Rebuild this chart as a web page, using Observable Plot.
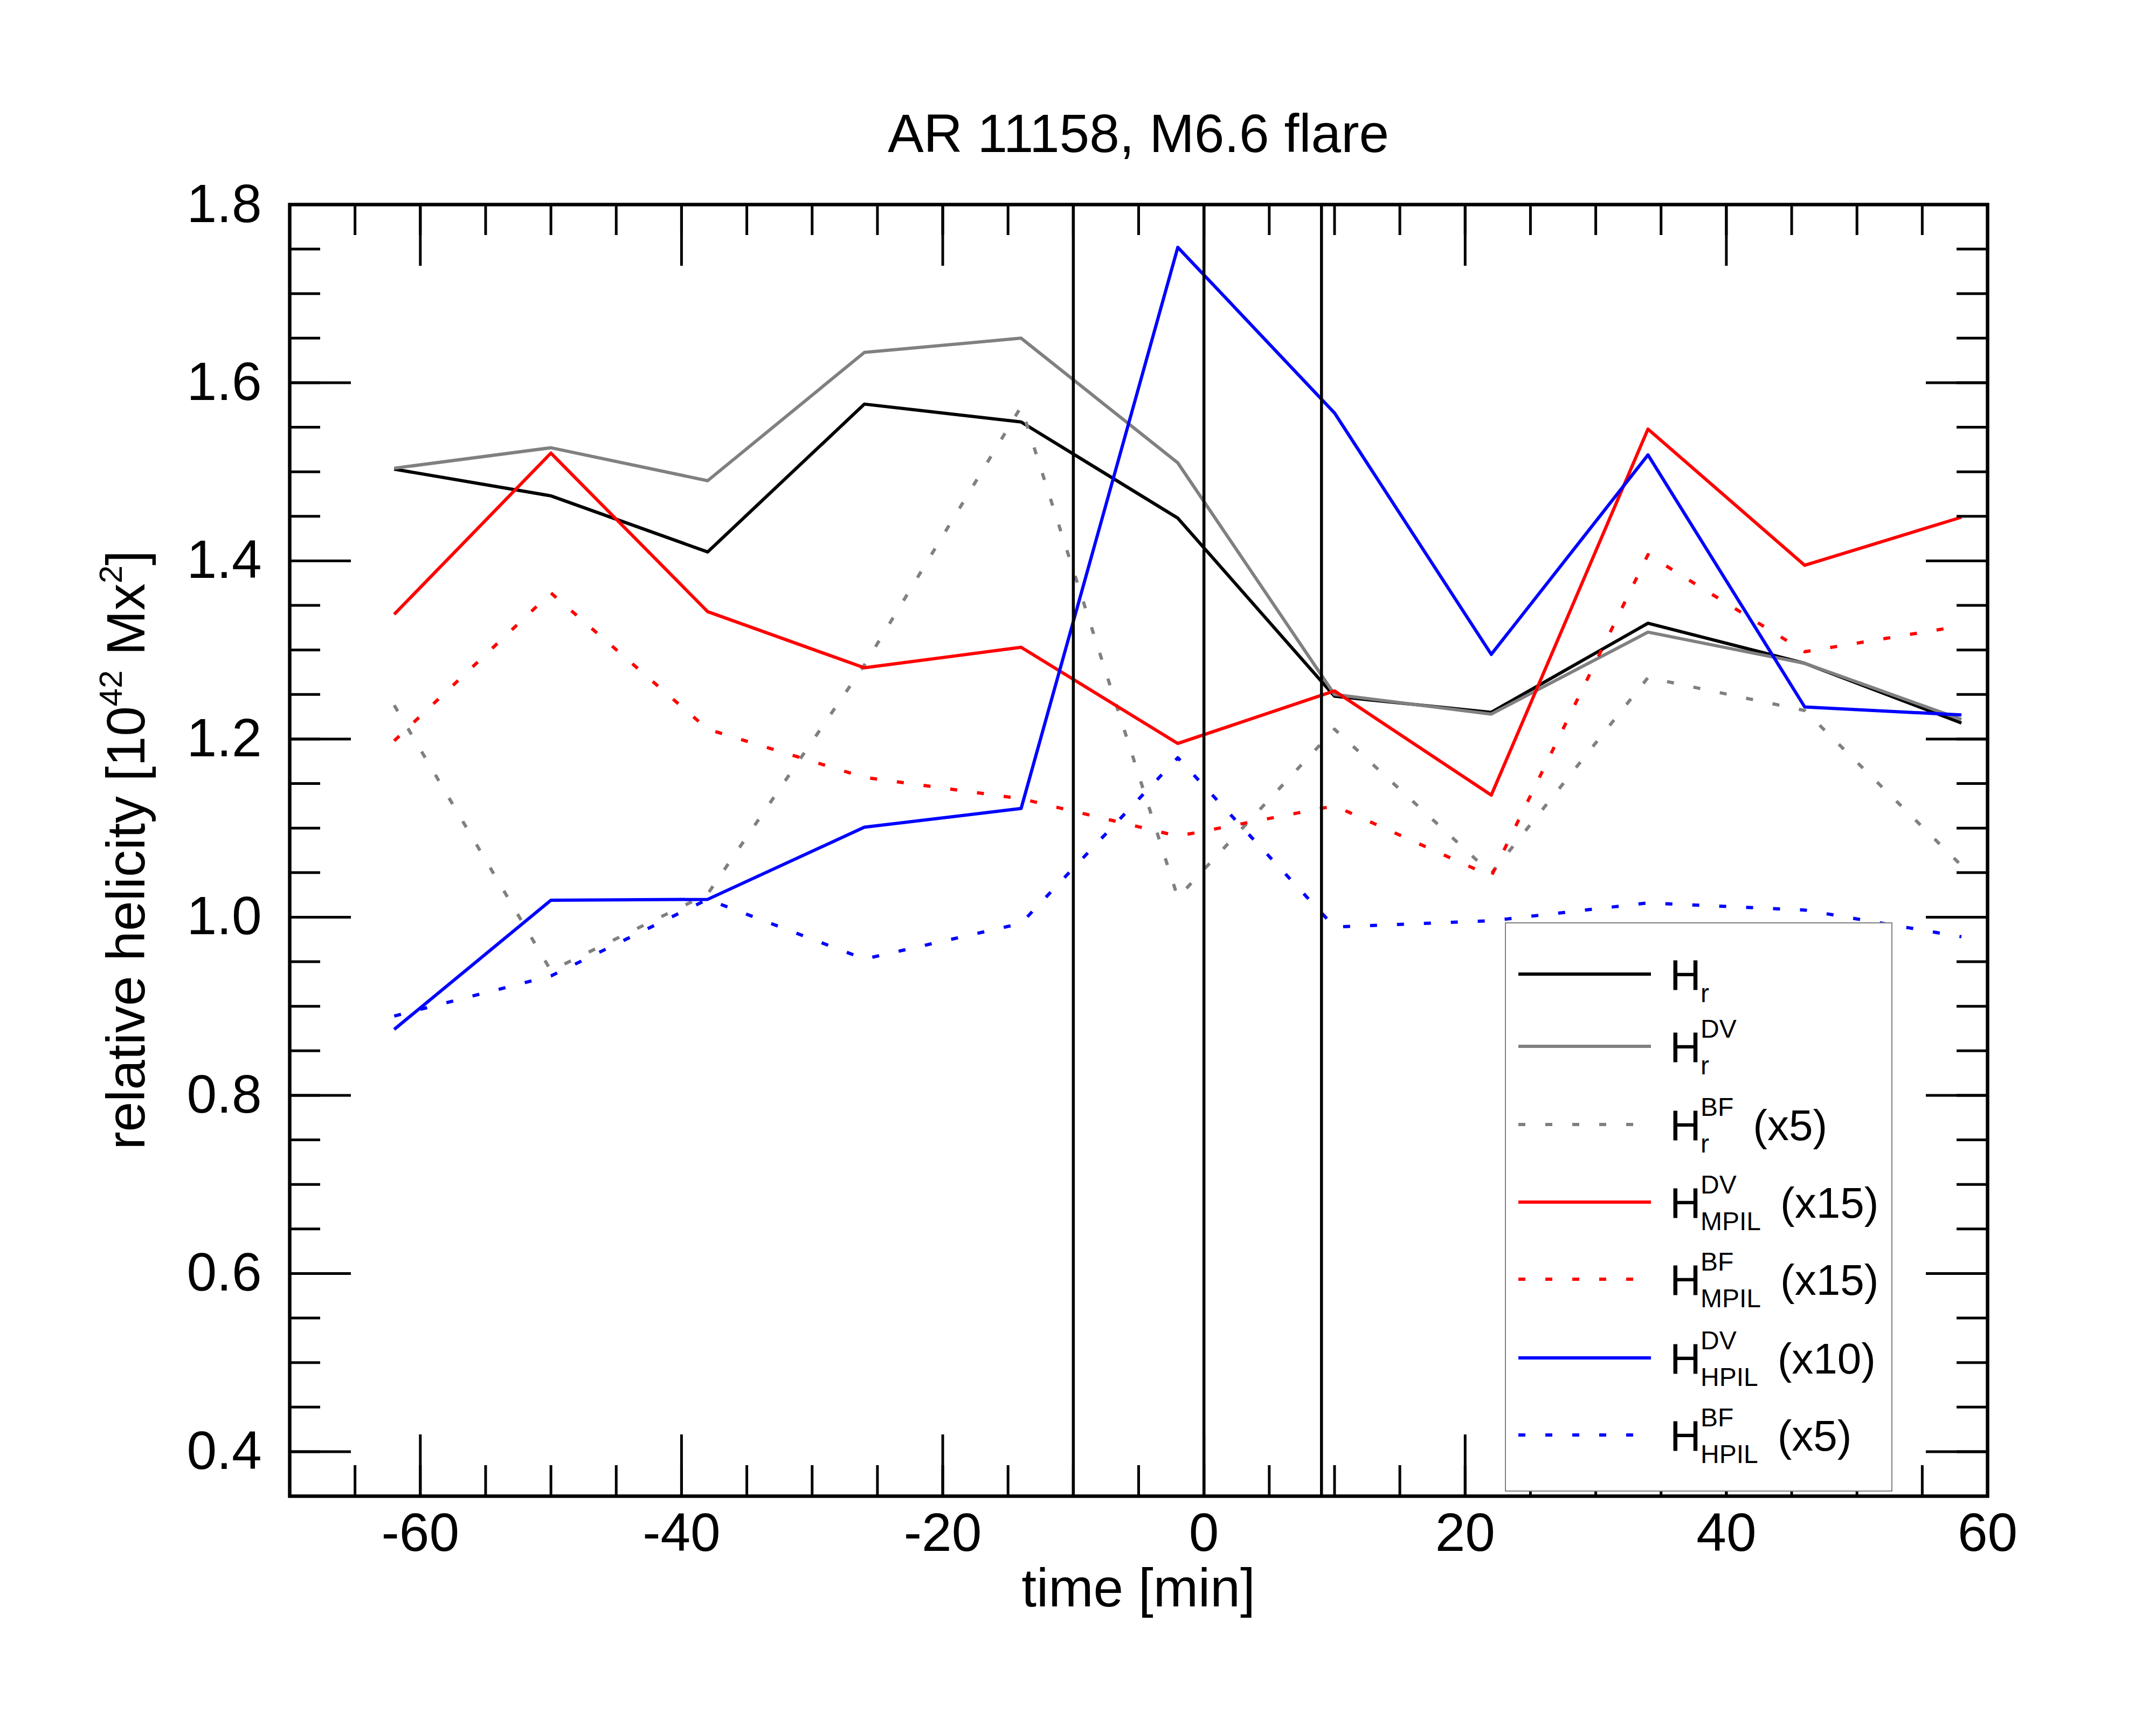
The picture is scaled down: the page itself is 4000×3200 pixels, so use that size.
<!DOCTYPE html>
<html>
<head>
<meta charset="utf-8">
<script src="https://cdn.jsdelivr.net/npm/d3@7"></script>
<script src="https://cdn.jsdelivr.net/npm/@observablehq/plot@0.6"></script>
<style>
html, body { margin: 0; padding: 0; background: #fff; }
</style>
</head>
<body>
<div id="chart"></div>
<script>
// ---------------- data ----------------
const times = [-62, -50, -38, -26, -14, -2, 10, 22, 34, 46, 58];

const hr       = [1.503, 1.473, 1.410, 1.576, 1.556, 1.448, 1.248, 1.230, 1.330, 1.285, 1.218];
const hrDV     = [1.504, 1.527, 1.490, 1.634, 1.650, 1.510, 1.250, 1.228, 1.320, 1.285, 1.222];
const hrBF     = [1.238, 0.940, 1.026, 1.283, 1.573, 1.022, 1.211, 1.049, 1.269, 1.232, 1.058];
const mpilDV   = [1.340, 1.521, 1.343, 1.280, 1.303, 1.195, 1.254, 1.137, 1.548, 1.395, 1.449];
const mpilBF   = [1.198, 1.364, 1.211, 1.157, 1.133, 1.091, 1.125, 1.046, 1.407, 1.298, 1.327];
const hpilDV   = [0.874, 1.019, 1.020, 1.101, 1.122, 1.752, 1.566, 1.295, 1.519, 1.236, 1.227];
const hpilBF   = [0.889, 0.934, 1.020, 0.953, 0.993, 1.179, 0.989, 0.996, 1.016, 1.008, 0.978];

const flareTimes = [-10, 0, 9];

const xTickLabels = [-60, -40, -20, 0, 20, 40, 60];
const yTickLabels = [0.4, 0.6, 0.8, 1.0, 1.2, 1.4, 1.6, 1.8];

const titleText = "AR 11158, M6.6 flare";
const xLabelText = "time [min]";

// series definitions (legend labels: main, superscript, subscript, suffix)
const seriesDefs = [
  {key: "Hr",      values: hr,     color: "#000000", dash: null,    sup: "",   sub: "r",    suffix: ""},
  {key: "HrDV",    values: hrDV,   color: "#808080", dash: null,    sup: "DV", sub: "r",    suffix: ""},
  {key: "HrBF",    values: hrBF,   color: "#808080", dash: "13,37", sup: "BF", sub: "r",    suffix: "(x5)"},
  {key: "MPILDV",  values: mpilDV, color: "#ff0000", dash: null,    sup: "DV", sub: "MPIL", suffix: "(x15)"},
  {key: "MPILBF",  values: mpilBF, color: "#ff0000", dash: "13,37", sup: "BF", sub: "MPIL", suffix: "(x15)"},
  {key: "HPILDV",  values: hpilDV, color: "#0000ff", dash: null,    sup: "DV", sub: "HPIL", suffix: "(x10)"},
  {key: "HPILBF",  values: hpilBF, color: "#0000ff", dash: "13,37", sup: "BF", sub: "HPIL", suffix: "(x5)"}
];

// ---------------- layout ----------------
const W = 4000, H = 3200;
const mL = 537, mR = 313, mT = 379, mB = 425;
const fw = W - mL - mR, fh = H - mT - mB;
const FONT = "'Liberation Sans', Arial, Helvetica, sans-serif";
const minorLen = 57, majorLen = 114, tickW = 5;

const xMinor = d3.range(-65, 60, 5);
const yMinor = d3.range(8, 36).map(i => i * 0.05);

const seriesMarks = seriesDefs.map(s =>
  Plot.line(times.map((t, i) => ({t, v: s.values[i]})), {
    x: "t", y: "v",
    stroke: s.color, strokeWidth: 6,
    strokeDasharray: s.dash || undefined,
    strokeLinecap: "butt", strokeLinejoin: "round"
  })
);

const chart = Plot.plot({
  width: W, height: H,
  marginLeft: mL, marginRight: mR, marginTop: mT, marginBottom: mB,
  style: {fontFamily: FONT, fontSize: "100px", background: "white", color: "black"},
  x: {domain: [-70, 60]},
  y: {domain: [0.35, 1.8]},
  marks: [
    ...seriesMarks,
    Plot.ruleX(flareTimes, {x: d => d, stroke: "black", strokeWidth: 5.5}),
    // inward ticks, four sides
    Plot.tickX(xMinor, {x: d => d, insetTop: fh - minorLen, stroke: "black", strokeWidth: tickW}),
    Plot.tickX(xMinor, {x: d => d, insetBottom: fh - minorLen, stroke: "black", strokeWidth: tickW}),
    Plot.tickX(xTickLabels, {x: d => d, insetTop: fh - majorLen, stroke: "black", strokeWidth: tickW}),
    Plot.tickX(xTickLabels, {x: d => d, insetBottom: fh - majorLen, stroke: "black", strokeWidth: tickW}),
    Plot.tickY(yMinor, {y: d => d, insetRight: fw - minorLen, stroke: "black", strokeWidth: tickW}),
    Plot.tickY(yMinor, {y: d => d, insetLeft: fw - minorLen, stroke: "black", strokeWidth: tickW}),
    Plot.tickY(yTickLabels, {y: d => d, insetRight: fw - majorLen, stroke: "black", strokeWidth: tickW}),
    Plot.tickY(yTickLabels, {y: d => d, insetLeft: fw - majorLen, stroke: "black", strokeWidth: tickW}),
    Plot.axisX({ticks: xTickLabels, tickSize: 0, tickPadding: 30, tickFormat: d => String(d), label: null, fontSize: 100}),
    Plot.axisY({ticks: yTickLabels, tickSize: 0, tickPadding: 52, tickFormat: d => d.toFixed(1), label: null, fontSize: 100}),
    Plot.frame({stroke: "black", strokeWidth: 6.5})
  ]
});

document.getElementById("chart").appendChild(chart);

// ---------------- annotations ----------------
const svg = d3.select(chart);
const cx = mL + fw / 2, cy = mT + fh / 2;

svg.append("text")
  .attr("x", cx).attr("y", 282)
  .attr("text-anchor", "middle")
  .style("font-family", FONT).style("font-size", "100px")
  .attr("fill", "black")
  .text(titleText);

svg.append("text")
  .attr("x", cx).attr("y", 2980)
  .attr("text-anchor", "middle")
  .style("font-family", FONT).style("font-size", "100px")
  .attr("fill", "black")
  .text(xLabelText);

const yl = svg.append("text")
  .attr("transform", `translate(268,${cy}) rotate(-90)`)
  .attr("text-anchor", "middle")
  .style("font-family", FONT).style("font-size", "100px")
  .attr("fill", "black");
yl.append("tspan").text("relative helicity [10");
yl.append("tspan").attr("dy", -42).style("font-size", "60px").text("42");
yl.append("tspan").attr("dy", 42).text(" Mx");
yl.append("tspan").attr("dy", -42).style("font-size", "60px").text("2");
yl.append("tspan").attr("dy", 42).text("]");

// ---------------- legend ----------------
// approximate Helvetica/Arial advance widths (em) for script labels
const charW = {B: .667, F: .611, D: .722, V: .667, M: .833, P: .667, I: .278, L: .556, H: .722, r: .333};
const textW = (s, size) => s.split("").reduce((a, c) => a + (charW[c] || .6), 0) * size;

const lgX = 2793, lgY = 1712, lgW = 717, lgH = 1054;
const rowOffsets = [95, 229, 374, 518, 661, 807, 950];
const lg = svg.append("g").attr("text-anchor", "start");
lg.append("rect")
  .attr("x", lgX).attr("y", lgY).attr("width", lgW).attr("height", lgH)
  .attr("fill", "white").attr("stroke", "#808080").attr("stroke-width", 2);

const scriptSize = 48, mainSize = 80, hX = 3098, scriptX = 3155;
seriesDefs.forEach((s, i) => {
  const ly = lgY + rowOffsets[i];
  lg.append("line")
    .attr("x1", 2817).attr("x2", 3063).attr("y1", ly).attr("y2", ly)
    .attr("stroke", s.color).attr("stroke-width", 6)
    .attr("stroke-dasharray", s.dash)
    .attr("stroke-linecap", "butt");
  const base = ly + 29;
  lg.append("text").attr("x", hX).attr("y", base).attr("text-anchor", "start")
    .style("font-family", FONT).style("font-size", mainSize + "px").attr("fill", "black").text("H");
  if (s.sup) {
    lg.append("text").attr("x", scriptX).attr("y", base - 45).attr("text-anchor", "start")
      .style("font-family", FONT).style("font-size", scriptSize + "px").attr("fill", "black").text(s.sup);
  }
  if (s.sub) {
    lg.append("text").attr("x", scriptX).attr("y", base + 23).attr("text-anchor", "start")
      .style("font-family", FONT).style("font-size", scriptSize + "px").attr("fill", "black").text(s.sub);
  }
  if (s.suffix) {
    const w = Math.max(textW(s.sup, scriptSize), textW(s.sub, scriptSize));
    lg.append("text").attr("x", scriptX + w + 36).attr("y", base).attr("text-anchor", "start")
      .style("font-family", FONT).style("font-size", mainSize + "px").attr("fill", "black").text(s.suffix);
  }
});
</script>
</body>
</html>
